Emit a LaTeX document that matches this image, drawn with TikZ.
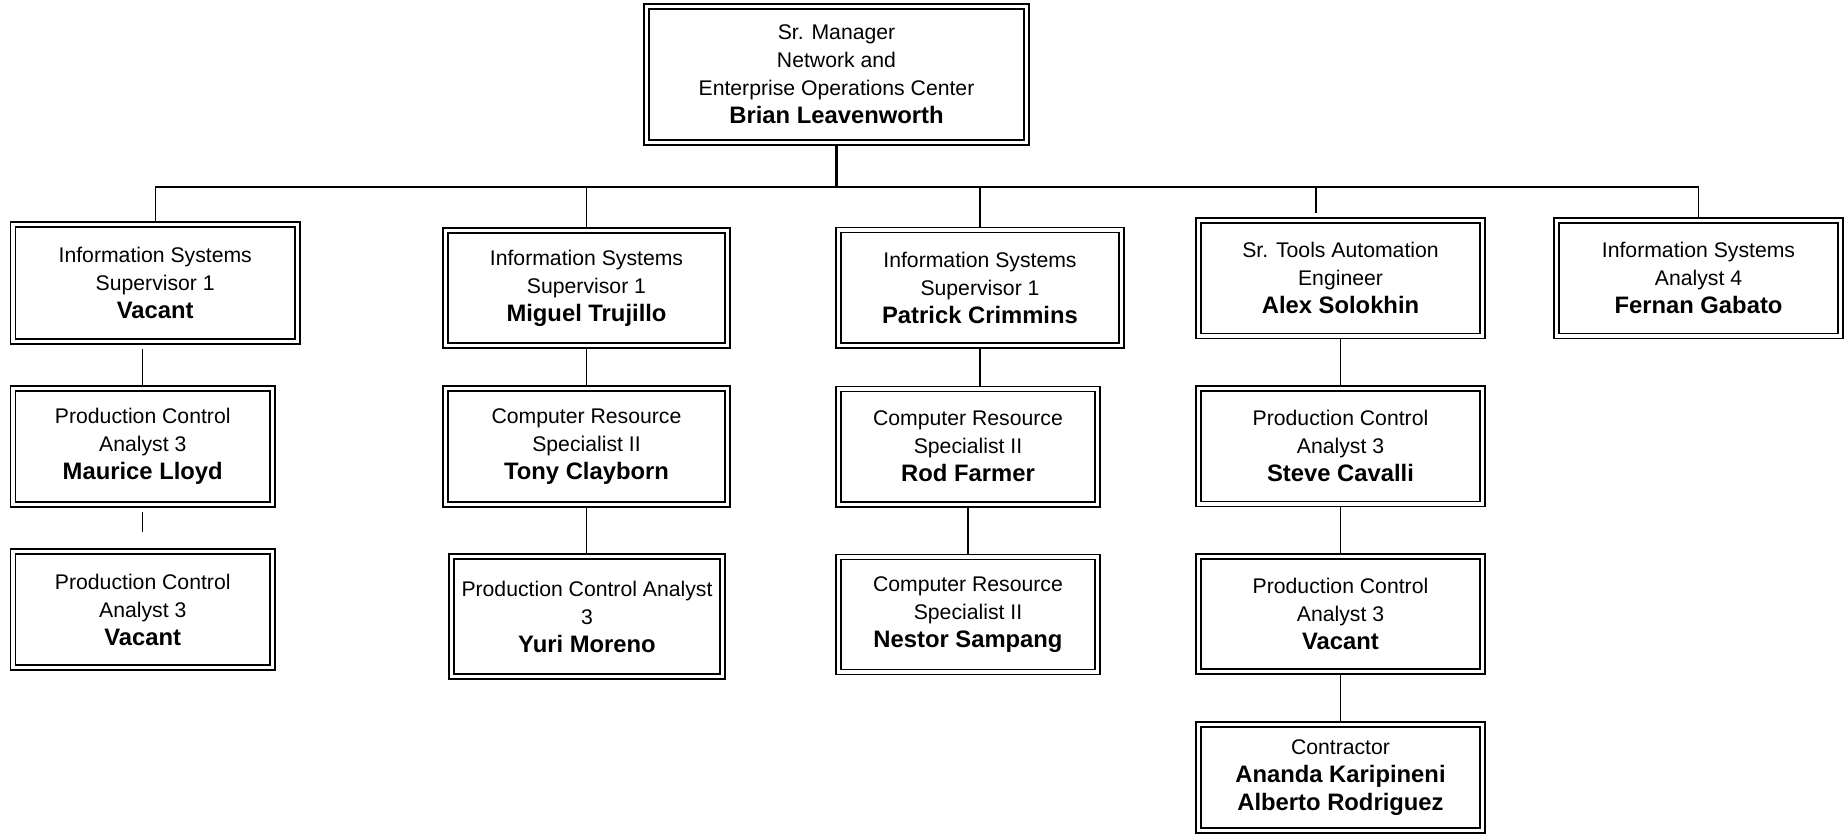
\documentclass[tikz,border=0pt]{standalone}
\usepackage{fontspec}
\setmainfont{Liberation Sans}
\usepackage{tikz}
\usetikzlibrary{positioning,calc,backgrounds}
\definecolor{orgtrait}{HTML}{000000}
\newcommand{\nomp}[1]{{\fontsize{11.9}{15}\selectfont\bfseries #1}}

\begin{document}
\begin{tikzpicture}[
    x=0.5pt,y=-0.5pt,
    poste/.style = {draw=orgtrait, double, double distance=1.8pt, line width=0.7pt,
                    align=center, inner sep=0pt,
                    font=\fontsize{10.6}{14}\selectfont,
                    minimum width=142pt, minimum height=57.75pt},
    lien/.style  = {orgtrait, line width=0.6pt},
    tronc/.style = {orgtrait, line width=1.1pt},
  ]
  \useasboundingbox (0,0) rectangle (1844,836);

  % ── Direction ───────────────────────────────────────────────────────────
  \node[poste,minimum width=190pt,minimum height=68pt] (mgr) at (836.5,74.5)
       {Sr. Manager\\Network and\\Enterprise Operations Center\\\nomp{Brian Leavenworth}};

  % ── Premier niveau ──────────────────────────────────────────────────────
  \node[poste,minimum width=142.25pt,minimum height=58.5pt] (sup1) at (155.25,283)
       {Information Systems\\Supervisor 1\\\nomp{Vacant}};
  \node[poste,minimum width=141pt,minimum height=57.5pt] (sup2) at (586.5,288)
       {Information Systems\\Supervisor 1\\\nomp{Miguel Trujillo}};
  \node[poste,minimum width=141.5pt] (sup3) at (980,287.75)
       {Information Systems\\Supervisor 1\\\nomp{Patrick Crimmins}};
  \node[poste] (auto) at (1340.5,278.25)
       {Sr. Tools Automation\\Engineer\\\nomp{Alex Solokhin}};
  \node[poste] (isa) at (1698.5,278.25)
       {Information Systems\\Analyst 4\\\nomp{Fernan Gabato}};

  % ── Deuxième niveau ─────────────────────────────────────────────────────
  \node[poste,minimum width=129.75pt,minimum height=58pt] (pca1) at (142.75,446.5)
       {Production Control\\Analyst 3\\\nomp{Maurice Lloyd}};
  \node[poste,minimum width=141pt,minimum height=58pt] (crs1) at (586.5,446.5)
       {Computer Resource\\Specialist II\\\nomp{Tony Clayborn}};
  \node[poste,minimum width=129.5pt,minimum height=57.7pt] (crs2) at (968,446.6)
       {Computer Resource\\Specialist II\\\nomp{Rod Farmer}};
  \node[poste] (pca3) at (1340.5,446.25)
       {Production Control\\Analyst 3\\\nomp{Steve Cavalli}};

  % ── Troisième niveau ────────────────────────────────────────────────────
  \node[poste,minimum width=129.75pt,minimum height=58pt] (pca2) at (142.75,609.5)
       {Production Control\\Analyst 3\\\nomp{Vacant}};
  \node[poste,minimum width=135.5pt,minimum height=60pt] (pca4) at (587,616.5)
       {Production Control Analyst\\3\\\nomp{Yuri Moreno}};
  \node[poste,minimum width=129.5pt,minimum height=57.65pt] (crs3) at (968,614.5)
       {Computer Resource\\Specialist II\\\nomp{Nestor Sampang}};
  \node[poste,minimum height=57.5pt] (pca5) at (1340.5,614)
       {Production Control\\Analyst 3\\\nomp{Vacant}};

  % ── Sous-traitants ──────────────────────────────────────────────────────
  \node[poste,minimum height=53pt] (ctr) at (1340.5,777.5)
       {Contractor\\\nomp{Ananda Karipineni}\\\nomp{Alberto Rodriguez}};

  % ── Liaisons (sous les cadres) ──────────────────────────────────────────
  \begin{scope}[on background layer]
    \coordinate (rail) at (0,187);
    \draw[tronc] (mgr.south) -- (mgr.south |- rail);
    \draw[lien] (sup1.north |- rail) -- (isa.north |- rail);
    \foreach \n in {sup1,sup2,sup3,isa}
      \draw[lien] (\n.north |- rail) -- (\n.north);
    \draw[lien] ([xshift=-12.25pt]auto.north |- rail)
                -- ([xshift=-12.25pt,yshift=3.25pt]auto.north);

    \draw[lien] (pca1.north) -- ($(sup1.south -| pca1.north)+(0,6.5)$);
    \draw[lien] ($(pca1.south)+(0,6.5)$) -- ($(pca1.south)+(0,26.5)$);

    \draw[lien] (sup2.south) -- (crs1.north);
    \draw[lien] (crs1.south) -- (crs1.south |- pca4.north);
    \draw[lien] (sup3.south) -- (sup3.south |- crs2.north);
    \draw[lien] (crs2.south) -- (crs3.north);
    \draw[lien] (auto.south) -- (pca3.north);
    \draw[lien] (pca3.south) -- (pca5.north);
    \draw[lien] (pca5.south) -- (ctr.north);
  \end{scope}

\end{tikzpicture}
\end{document}
